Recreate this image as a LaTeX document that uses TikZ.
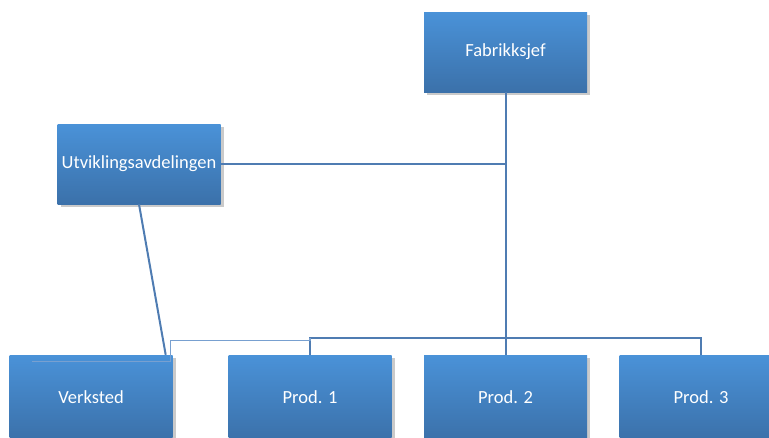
\documentclass[tikz,border=0pt]{standalone}
\usepackage{fontspec}
\setmainfont{Carlito}
\usepackage{tikz}
\usetikzlibrary{calc,shadows}
\definecolor{boxtop}{RGB}{74,146,216}
\definecolor{boxbot}{RGB}{59,113,170}
\definecolor{linkcol}{RGB}{79,124,178}
\definecolor{lightlink}{RGB}{120,160,208}
\begin{document}
\begin{tikzpicture}[x=1pt,y=-1pt]
%===2D Frame===
\tikzset{unit/.style ={top color=boxtop, bottom color=boxbot, draw=none, text=white,
 minimum width=163pt, minimum height=80pt, inner sep=0pt, font=\fontsize{18.5}{21}\selectfont,
 drop shadow={shadow xshift=3pt, shadow yshift=-3pt, opacity=0.35, fill=black!60}}}
\tikzset{link/.style ={draw=linkcol, line width=2pt}}
\useasboundingbox (0,0) rectangle (769,437);
%===units===
\node[unit] (fab) at (505.5,52) {Fabrikksjef};
\node[unit] (utv) at (139,164) {Utviklingsavdelingen};
\node[unit,minimum height=84pt] (vk) at (91,397) {Verksted};
\node[unit,minimum height=84pt] (p1) at (310,397) {Prod. 1};
\node[unit,minimum height=84pt] (p2) at (505.5,397) {Prod. 2};
\node[unit,minimum height=84pt] (p3) at (701,397) {Prod. 3};
%===scheme struct=====
\coordinate (bus) at ($(p2.north)+(0,-17)$);
\coordinate (vkt) at ($(vk.north east)+(-7,0)$);
\coordinate (lb1) at ($(p1.north)+(0,-14)$);
\coordinate (lb2) at ($(vk.north east)+(-2,-14)$);
\coordinate (lb3) at ($(vk.north east)+(-2,7)$);
\coordinate (lb4) at ($(vk.north west)+(23,7)$);
%===links===
\draw[link] (fab.south) -- (p2.north);
\draw[link] (p1.north) |- (bus) -| (p3.north);
\draw[link] (utv.east) -- (utv.east -| fab.south);
\draw[link] (utv.south) -- (vkt);
\draw[lightlink,line width=1.2pt] ($(p1.north)+(0,-17)$) -- (lb1) -- (lb2) -- (lb3) -- (lb4);
\end{tikzpicture}
\end{document}
